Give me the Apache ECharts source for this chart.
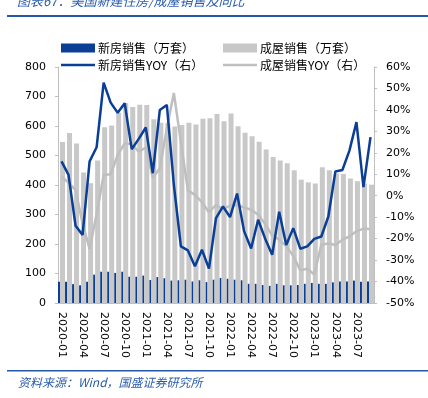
<!DOCTYPE html>
<html>
<head>
<meta charset="utf-8">
<script src="https://cdn.jsdelivr.net/npm/echarts@6/dist/echarts.min.js"></script>
<style>
  html, body { margin: 0; padding: 0; background: #fff; }
  #main { width: 428px; height: 398px; }
</style>
</head>
<body>
<div id="main"></div>
<script>
    // 月份 2020-01 ~ 2023-09
    var months = [];
    for (var y = 2020; y <= 2023; y++) {
        for (var m = 1; m <= 12; m++) {
            if (y === 2023 && m > 9) break;
            months.push(y + '-' + (m < 10 ? '0' + m : m));
        }
    }

    // 新房销售（万套）
    var newSales = [72, 72, 64, 60, 72, 96, 106, 106, 102, 106, 89, 89,
                    93, 78, 88, 84, 76, 77, 79, 73, 77, 71, 79, 85,
                    82, 79, 77, 65, 65, 61, 58, 65, 60, 60, 61, 65,
                    68, 65, 65, 70, 73, 73, 76, 72, 73];
    // 成屋销售（万套）
    var existSales = [546, 576, 541, 442, 406, 483, 596, 602, 645, 678, 664, 672,
                      671, 623, 611, 609, 598, 603, 611, 605, 625, 626, 641, 616,
                      642, 599, 577, 565, 547, 520, 495, 483, 474, 450, 418, 409,
                      405, 460, 450, 439, 437, 422, 413, 405, 401];
    // 新房销售YOY（%）
    var newYoy = [16, 9.7, -14, -18.3, 16, 22.6, 52.7, 43.4, 38.7, 43.1, 21.7, 26.5,
                  31.8, 10.5, 40, 42.3, 5, -23.6, -25.5, -32.9, -25.2, -34, -10.4, -5,
                  -10, 1, -16.5, -24.6, -11.2, -20, -27.5, -7.5, -23, -15.1, -24.7, -23.6,
                  -20.1, -19, -9.7, 11.3, 12, 21, 34.3, 4, 27.3];
    // 成屋销售YOY（%）
    var existYoy = [9, 6, 2.7, -13, -24.8, -8.5, 9.7, 10, 19, 24.4, 24, 20.5,
                    22.4, 8.4, 12.8, 31.4, 47.9, 25, 2.5, 0.4, -3, -7.7, -4.3, -6.3,
                    -4.6, -4.3, -5.5, -6.5, -8.8, -13.2, -18.5, -20.5, -23.5, -28, -34.8, -34,
                    -36.7, -22.8, -22.3, -23, -20.5, -19, -16.6, -15.3, -15.6];

    var names = ['新房销售（万套）', '成屋销售（万套）', '新房销售YOY（右）', '成屋销售YOY（右）'];

    var BLUE = '#0b3f97';
    var GREY = '#c8c8c8';
    var GREY_LINE = '#bfbfbf';
    var TXT_BLUE = '#2a5cae';
    var FONT = '"DejaVu Sans", "Noto Sans CJK SC", sans-serif';
    var CJK = '"Noto Sans CJK SC", sans-serif';

    var myChart = echarts.init(document.getElementById('main'));

    function legendItem(name, left, top, h) {
        return {
            data: [name],
            left: left,
            top: top,
            icon: 'rect',
            itemWidth: 34,
            itemHeight: h,
            itemGap: 0,
            selectedMode: false,
            textStyle: { fontFamily: CJK, fontSize: 12, color: '#000', padding: [0, 0, 0, -2] }
        };
    }

    var option = {
        animation: false,
        textStyle: { fontFamily: FONT },
        grid: {
            left: 58,
            right: 54,
            top: 67,
            bottom: 95,
            containLabel: false
        },
        legend: [
            legendItem(names[0], 56, 37, 9),
            legendItem(names[1], 218, 37, 9),
            legendItem(names[2], 56, 54, 2.5),
            legendItem(names[3], 218, 54, 2.5)
        ],
        graphic: [
            {
                type: 'text', left: 17, top: -5,
                style: { text: '图表67：美国新建住房/成屋销售及同比', fill: TXT_BLUE,
                         font: 'italic 13px "Noto Sans CJK SC", sans-serif' }
            },
            {
                type: 'rect', shape: { x: 7, y: 15, width: 421, height: 2 },
                style: { fill: '#2458a8' }
            },
            {
                type: 'rect', shape: { x: 7, y: 370, width: 421, height: 1.5 },
                style: { fill: '#2458a8' }
            },
            {
                type: 'text', left: 18, top: 376,
                style: { text: '资料来源：Wind，国盛证券研究所', fill: TXT_BLUE,
                         font: 'italic 12px "Noto Sans CJK SC", sans-serif' }
            }
        ],
        xAxis: {
            type: 'category',
            data: months,
            boundaryGap: true,
            axisLine: { lineStyle: { color: '#bfbfbf', width: 1 } },
            axisTick: { show: false },
            axisLabel: {
                interval: 2,
                rotate: -90,
                margin: 9,
                fontSize: 11,
                color: '#000',
                fontFamily: FONT
            }
        },
        yAxis: [
            {
                type: 'value',
                min: 0,
                max: 800,
                interval: 100,
                axisLine: { show: true, lineStyle: { color: '#bfbfbf' } },
                axisTick: { show: true, length: 3, lineStyle: { color: '#bfbfbf' } },
                splitLine: { show: false },
                axisLabel: { fontSize: 11, color: '#000', margin: 12, fontFamily: FONT }
            },
            {
                type: 'value',
                min: -50,
                max: 60,
                interval: 10,
                axisLine: { show: true, lineStyle: { color: '#bfbfbf' } },
                axisTick: { show: true, length: 3, lineStyle: { color: '#bfbfbf' } },
                splitLine: { show: false },
                axisLabel: { fontSize: 11, color: '#000', margin: 12, fontFamily: FONT,
                             formatter: '{value}%' }
            }
        ],
        series: [
            {
                name: names[0],
                type: 'bar',
                data: newSales,
                barWidth: 2,
                barGap: '0%',
                itemStyle: { color: BLUE }
            },
            {
                name: names[1],
                type: 'bar',
                data: existSales,
                barWidth: 5,
                barGap: '0%',
                itemStyle: { color: GREY }
            },
            {
                name: names[2],
                type: 'line',
                yAxisIndex: 1,
                data: newYoy,
                symbol: 'none',
                lineStyle: { color: BLUE, width: 2.5 },
                itemStyle: { color: BLUE },
                z: 4
            },
            {
                name: names[3],
                type: 'line',
                yAxisIndex: 1,
                data: existYoy,
                symbol: 'none',
                lineStyle: { color: GREY_LINE, width: 2.5 },
                itemStyle: { color: GREY_LINE },
                z: 3
            }
        ]
    };

    myChart.setOption(option);
</script>
</body>
</html>
